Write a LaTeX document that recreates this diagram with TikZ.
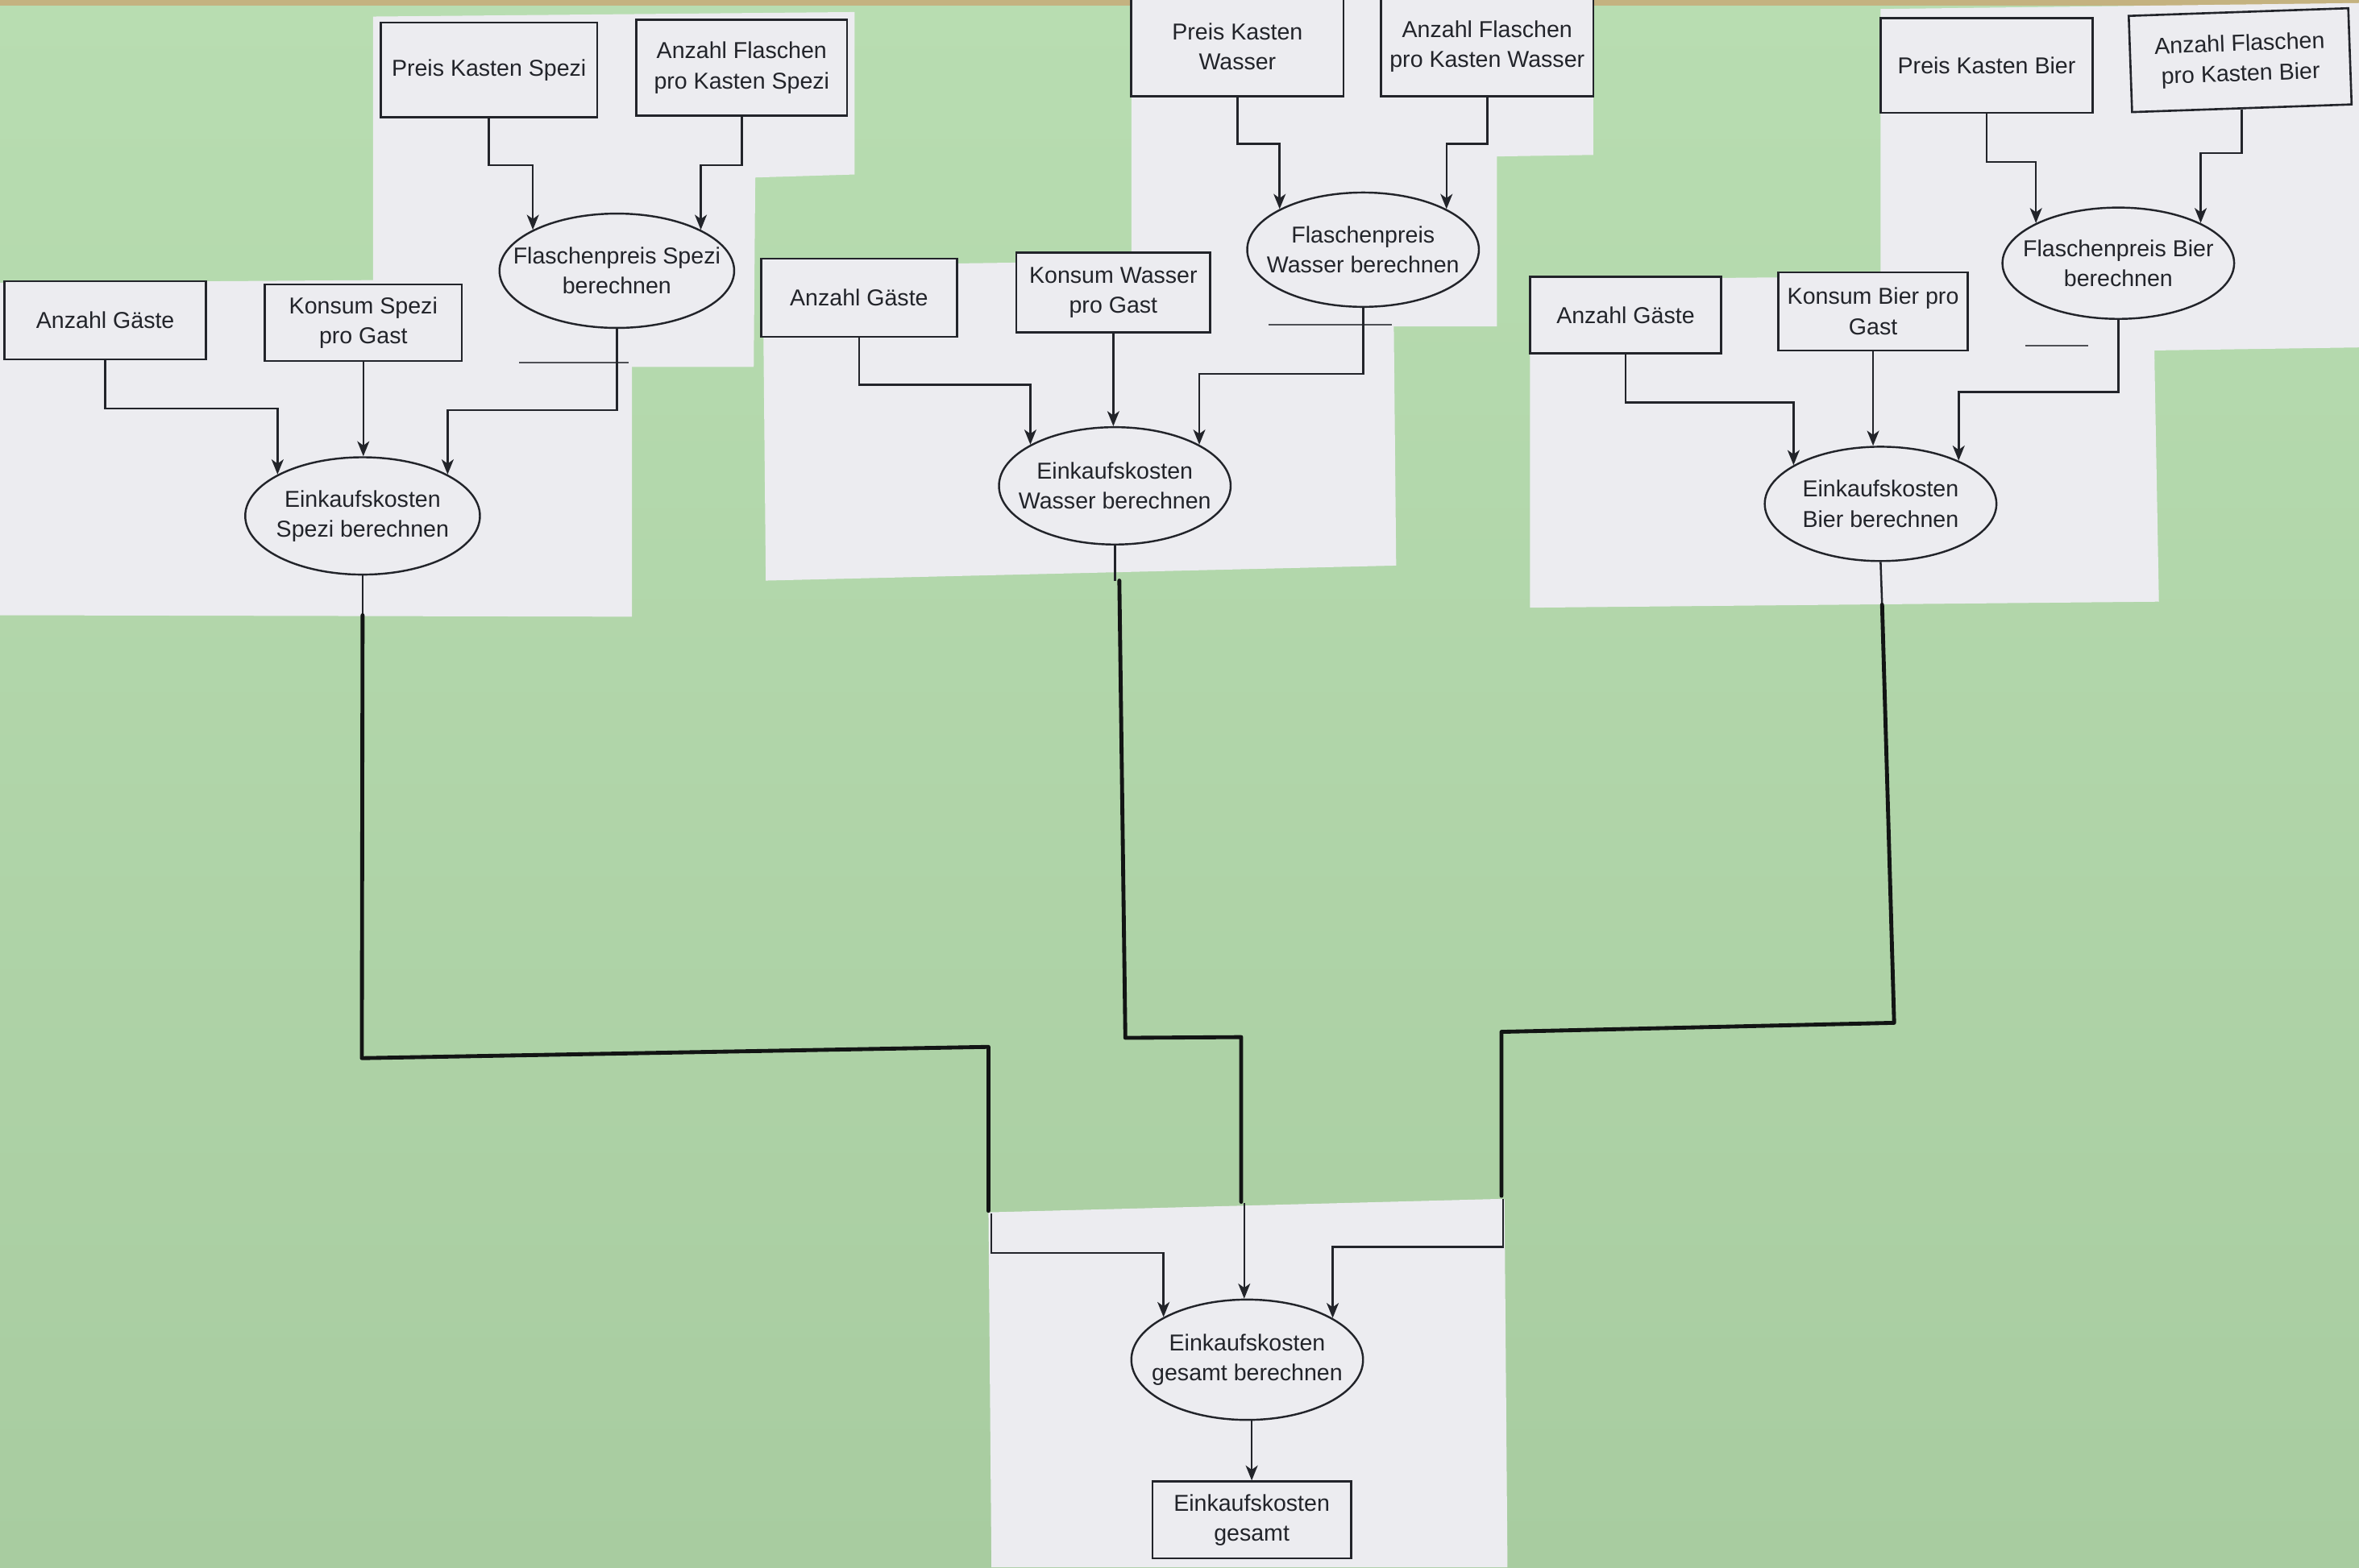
\documentclass[tikz,border=0pt]{standalone}
\usepackage{fontspec}
\setmainfont{Liberation Sans}
\usetikzlibrary{shapes.geometric,arrows.meta}
\definecolor{board}{RGB}{184,221,177}
\definecolor{boardlo}{RGB}{168,204,160}
\definecolor{paper}{RGB}{236,236,240}
\definecolor{ink}{RGB}{34,36,42}
\definecolor{marker}{RGB}{18,20,20}
\definecolor{tape}{RGB}{196,178,128}
\begin{document}
\begin{tikzpicture}[x=1pt,y=-1pt,
  lbl/.style={font=\fontsize{15.3}{20}\selectfont, text=ink, align=center},
  box/.style={draw=ink, line width=1.4pt, fill=paper, lbl, inner sep=0pt},
  proc/.style={ellipse, draw=ink, line width=1.3pt, fill=paper, inner sep=0pt},
  wire/.style={draw=ink, line width=1.35pt},
  feed/.style={wire, -{Stealth[length=10pt,width=8pt,inset=2.8pt]}},
  pen/.style={draw=marker, line width=2.6pt, line cap=round, line join=round},
  cutline/.style={draw=ink!80, line width=1pt},
]
% board
\useasboundingbox (0,0) rectangle (1568,1042);
\shade[top color=board, bottom color=boardlo] (0,0) rectangle (1568,1042);
\fill[tape] (0,0) rectangle (1568,4);

% paper sheets
\fill[paper] (248,11) -- (568,8) -- (568,116) -- (502,118) -- (501,244) -- (248,244) -- cycle;
\fill[paper] (0,188) -- (420,185) -- (420,410) -- (0,409) -- cycle;
\fill[paper] (752,0) -- (1059,0) -- (1059,103) -- (995,104) -- (995,217) -- (752,217) -- cycle;
\fill[paper] (507,177) -- (926,171) -- (928,376) -- (509,386) -- cycle;
\fill[paper] (1250,6) -- (1568,2) -- (1568,231) -- (1432,233) -- (1432,240) -- (1250,240) -- cycle;
\fill[paper] (1017,186) -- (1431,182) -- (1435,400) -- (1017,404) -- cycle;
\fill[paper] (657,806) -- (1000,797) -- (1002,1042) -- (659,1042) -- cycle;

% leftover printed edges at the cut sheets
\draw[cutline] (345,241) -- (418,241);
\draw[cutline] (843,216) -- (925,216);
\draw[cutline] (1346,230) -- (1388,230);

% ---- Spezi ----
\node[box, minimum width=144pt, minimum height=63pt] (pks) at (325,46.5) {Preis Kasten Spezi};
\node[box, minimum width=140pt, minimum height=64pt] (afs) at (493,45) {Anzahl Flaschen\\pro Kasten Spezi};
\node[proc, minimum width=156pt, minimum height=76pt,
      label={[lbl]center:Flaschenpreis Spezi\\berechnen}] (fps) at (410,180) {};
\node[box, minimum width=134pt, minimum height=52pt] (ags) at (70,213) {Anzahl Gäste};
\node[box, minimum width=131pt, minimum height=51pt] (kss) at (241.5,214.5) {Konsum Spezi\\pro Gast};
\node[proc, minimum width=156pt, minimum height=78pt,
      label={[lbl]center:Einkaufskosten\\Spezi berechnen}] (eks) at (241,343) {};

\draw[feed] (pks.south) -- ++(0,31) -| (fps.154);
\draw[feed] (afs.south) -- ++(0,32) -| (fps.26);
\draw[feed] (ags.south) -- ++(0,32) -| (eks.154);
\draw[feed] (kss.south) -- (kss.south |- eks.north);
\draw[feed] (fps.south) -- ++(0,54) -| (eks.26);

% ---- Wasser ----
\node[box, minimum width=141pt, minimum height=66pt] (pkw) at (822.5,31) {Preis Kasten\\Wasser};
\node[box, minimum width=141pt, minimum height=66pt] (afw) at (988.5,31) {Anzahl Flaschen\\pro Kasten Wasser};
\node[proc, minimum width=154pt, minimum height=76pt,
      label={[lbl]center:Flaschenpreis\\Wasser berechnen}] (fpw) at (906,166) {};
\node[box, minimum width=130pt, minimum height=52pt] (agw) at (571,198) {Anzahl Gäste};
\node[box, minimum width=129pt, minimum height=53pt] (kw) at (740,194.5) {Konsum Wasser\\pro Gast};
\node[proc, minimum width=154pt, minimum height=78pt,
      label={[lbl]center:Einkaufskosten\\Wasser berechnen}] (ekw) at (741,323) {};

\draw[feed] (pkw.south) -- ++(0,31) -| (fpw.154);
\draw[feed] (afw.south) -- ++(0,31) -| (fpw.26);
\draw[feed] (agw.south) -- ++(0,31) -| (ekw.154);
\draw[feed] (kw.south) -- (kw.south |- ekw.north);
\draw[feed] (fpw.south) -- ++(0,44) -| (ekw.26);

% ---- Bier ----
\node[box, minimum width=141pt, minimum height=63pt] (pkb) at (1320.5,43.5) {Preis Kasten Bier};
\node[box, minimum width=146pt, minimum height=64pt, rotate=2] (afb) at (1489,40) {Anzahl Flaschen\\pro Kasten Bier};
\node[proc, minimum width=154pt, minimum height=74pt,
      label={[lbl]center:Flaschenpreis Bier\\berechnen}] (fpb) at (1408,175) {};
\node[box, minimum width=127pt, minimum height=51pt] (agb) at (1080.5,209.5) {Anzahl Gäste};
\node[box, minimum width=126pt, minimum height=52pt] (kb) at (1245,207) {Konsum Bier pro\\Gast};
\node[proc, minimum width=154pt, minimum height=76pt,
      label={[lbl]center:Einkaufskosten\\Bier berechnen}] (ekb) at (1250,335) {};

\draw[feed] (pkb.south) -- ++(0,32) -| (fpb.154);
\draw[feed] (afb.south) -- ++(0,29) -| (fpb.26);
\draw[feed] (agb.south) -- ++(0,32) -| (ekb.156);
\draw[feed] (kb.south) -- (kb.south |- ekb.north);
\draw[feed] (fpb.south) -- ++(0,48) -| (ekb.29);

% ---- Gesamt ----
\node[proc, minimum width=154pt, minimum height=80pt,
      label={[lbl]center:Einkaufskosten\\gesamt berechnen}] (ekg) at (829,904) {};
\node[box, minimum width=132pt, minimum height=51pt] (ekgb) at (832,1010.5) {Einkaufskosten\\gesamt};

% hand-drawn links across the board
\coordinate (sEdge) at (241,409);
\coordinate (sKnee) at (240.5,703.5);
\coordinate (sTurn) at (657,696);
\coordinate (sDrop) at (657,805);
\coordinate (wEdge) at (744,386);
\coordinate (wKnee) at (748,690);
\coordinate (wTurn) at (825,689.5);
\coordinate (wDrop) at (825,799);
\coordinate (bEdge) at (1251,402);
\coordinate (bKnee) at (1259,680);
\coordinate (bTurn) at (998,686);
\coordinate (bDrop) at (998,795);
\coordinate (gLeft) at (659,807);
\coordinate (gMid) at (827,800);
\coordinate (gRight) at (999,797);

\draw[wire] (eks.south) -- (sEdge);
\draw[wire] (ekw.south) -- (ekw.south |- wEdge);
\draw[wire] (ekb.south) -- (bEdge);
\draw[pen] (sEdge) -- (sKnee) -- (sTurn) -- (sDrop);
\draw[pen] (wEdge) -- (wKnee) -- (wTurn) -- (wDrop);
\draw[pen] (bEdge) -- (bKnee) -- (bTurn) -- (bDrop);

\draw[feed] (gLeft) -- ++(0,26) -| (ekg.153);
\draw[feed] (gMid) -- (gMid |- ekg.north);
\draw[feed] (gRight) -- ++(0,32) -| (ekg.26);
\draw[feed] (ekgb.north |- ekg.south) -- (ekgb.north);
\end{tikzpicture}
\end{document}
